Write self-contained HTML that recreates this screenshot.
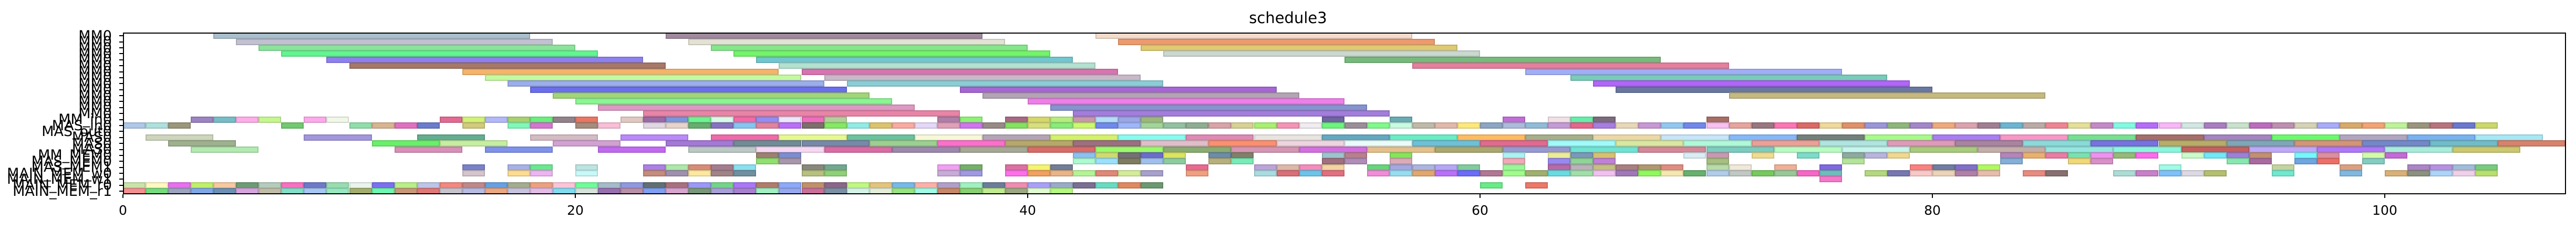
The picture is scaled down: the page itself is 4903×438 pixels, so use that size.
<!DOCTYPE html>
<html><head><meta charset="utf-8"><style>
html,body{margin:0;padding:0;background:#fff;}
#c{position:relative;width:4903px;height:438px;overflow:hidden;font-family:"DejaVu Sans","Liberation Sans",sans-serif;}
.b{position:absolute;height:12px;box-sizing:border-box;box-shadow:inset 0 0 0 2px rgba(0,0,0,0.13);}
.ax{position:absolute;left:234px;top:62px;width:4650px;height:308px;border:2px solid #000;box-sizing:border-box;}
.yt{position:absolute;left:227px;width:7px;height:2px;background:#000;}
.xt{position:absolute;top:370px;width:2px;height:7px;background:#000;}
.yl{position:absolute;right:4690px;font-size:27px;line-height:27px;white-space:nowrap;color:#000;}
.xl{position:absolute;top:386px;font-size:25px;line-height:30px;width:100px;text-align:center;}
</style></head><body><div id="c">
<div style="position:absolute;left:0;width:4903px;top:17px;text-align:center;font-size:29px;">schedule3</div>
</div>
<script>
var c=document.getElementById('c');
var U=43.05,X0=234;
function cy(r){return 68.3+11.38*r;}
function bar(r,s,e,col){var d=document.createElement('div');d.className='b';d.style.left=(X0+s*U)+'px';d.style.width=((e-s)*U)+'px';d.style.top=(cy(r)-6)+'px';d.style.background=col;c.appendChild(d);}
function seq(r,s,arr){for(var i=0;i<arr.length;i++){if(arr[i])bar(r,s+i,s+i+1,arr[i]);}}
function units(r,str){str.trim().split(/\s+/).forEach(function(t){var p=t.split(':');var s=+p[0];bar(r,s,s+1,p[1]);});}
var L=[
[0,4,18,'#a9bfcc'],[0,24,38,'#a08a9d'],[0,43,57,'#f3dccb'],
[1,5,19,'#c3c1d1'],[1,25,39,'#e3e2d4'],[1,44,58,'#ee9a6e'],
[2,6,20,'#8be39c'],[2,26,40,'#86e68a'],[2,45,59,'#dfca72'],
[3,7,21,'#62f590'],[3,27,41,'#73f46a'],[3,46,60,'#cbd8cf'],
[4,9,23,'#8e80ef'],[4,28,42,'#72c6cf'],[4,54,68,'#77bb7c'],
[5,10,24,'#a67868'],[5,29,43,'#b2e2cf'],[5,57,71,'#e47f9e'],
[6,15,29,'#f5b46a'],[6,30,44,'#d874b0'],[6,62,76,'#a0aef8'],
[7,16,30,'#c4f9a0'],[7,31,45,'#c7b9c8'],[7,64,78,'#79ccb9'],
[8,17,31,'#9badea'],[8,32,46,'#8acdd5'],[8,65,79,'#b066f8'],
[9,18,32,'#6b6eec'],[9,37,51,'#a666d3'],[9,66,80,'#6978a0'],
[10,19,33,'#a2d577'],[10,38,52,'#b3a4b3'],[10,71,85,'#c6b980'],
[11,20,34,'#8af592'],[11,40,54,'#ee7fe8'],
[12,21,35,'#dd98c4'],[12,41,55,'#8593cf'],
[13,23,37,'#e885a7'],[13,42,56,'#a37ddc'],
[17,1,4,'#cdd6bd'],[17,8,11,'#a297dc'],[17,13,16,'#64ad90'],[17,18,21,'#d3bcc4'],[17,22,25,'#b98af8'],[17,26,29,'#ee6aa8'],[17,29,32,'#e6f98f'],[17,32,35,'#6bc29c'],[17,35,38,'#f7f8d8'],[17,38,41,'#b3a5b5'],[17,41,44,'#d3f16a'],[17,44,47,'#88fbee'],[17,47,50,'#dd8ab4'],[17,50,53,'#e8e4e0'],[17,53,56,'#64a8c0'],[17,56,59,'#6aecc4'],[17,59,62,'#fcbc62'],[17,62,65,'#a6ae8a'],[17,65,68,'#ecd8a6'],[17,68,71,'#c8e4f8'],[17,71,74,'#86b8f8'],[17,74,77,'#727f7a'],[17,77,80,'#a8fa8a'],[17,80,83,'#a97ef0'],[17,83,86,'#f797c8'],[17,86,89,'#78df90'],[17,89,92,'#a46e6a'],[17,92,95,'#a585c0'],[17,95,98,'#6cfa6c'],[17,98,101,'#b0a6c0'],[17,101,104,'#7ab2f0'],[17,104,107,'#a8e8f4'],
[18,2,5,'#9eb08e'],[18,11,14,'#6aef6a'],[18,14,17,'#c6eea0'],[18,19,22,'#d2a1d2'],[18,24,27,'#a478d6'],[18,27,30,'#708c96'],[18,30,33,'#7789a8'],[18,33,36,'#9cd090'],[18,36,39,'#fb70cc'],[18,39,42,'#b5a86a'],[18,42,45,'#9c7080'],[18,45,48,'#e0bdc9'],[18,48,51,'#fa9070'],[18,51,54,'#ecd5dc'],[18,54,57,'#eafcfa'],[18,57,60,'#6ec0d8'],[18,60,63,'#e06a90'],[18,63,66,'#a0fafa'],[18,66,69,'#d8e8a0'],[18,69,72,'#b0f8d8'],[18,72,75,'#eba097'],[18,75,78,'#b0e4e0'],[18,78,81,'#de9ab8'],[18,81,84,'#a884a0'],[18,84,87,'#8adada'],[18,87,90,'#7872e0'],[18,90,93,'#b8ac6a'],[18,93,96,'#7fa6b6'],[18,96,99,'#d49478'],[18,99,102,'#7488c8'],[18,102,105,'#70bcc8'],[18,105,108,'#d7826c'],
[19,3,6,'#b2eab0'],[19,12,15,'#d890b8'],[19,16,19,'#8091ea'],[19,21,24,'#c06af0'],[19,25,28,'#bcc8c6'],[19,28,31,'#f7d8f2'],[19,31,34,'#da6ca4'],[19,34,37,'#9c88ac'],[19,37,40,'#a4a894'],[19,40,43,'#d86c68'],[19,43,46,'#9afa6a'],[19,46,49,'#8aac72'],[19,49,52,'#d496b2'],[19,52,55,'#d470e0'],[19,55,58,'#e4c08c'],[19,58,61,'#aaa870'],[19,61,64,'#969ad0'],[19,64,67,'#70e4d4'],[19,67,70,'#d48898'],[19,70,73,'#7cccc0'],[19,73,76,'#b8fcc4'],[19,76,79,'#c6f5ec'],[19,79,82,'#a9cb7e'],[19,82,85,'#c4aeaa'],[19,85,88,'#96e6e0'],[19,88,91,'#8af6dc'],[19,91,94,'#c46060'],[19,94,97,'#c0a8f8'],[19,97,100,'#ae78f8'],[19,100,103,'#a8ecdc'],[19,103,106,'#ccc870']
];
L.forEach(function(a){bar(a[0],a[1],a[2],a[3]);});
seq(14,3,['#9b84bf','#78bcc5','#fcaee6','#c6f78f','','#fcaaec','#f1f8e8']);
seq(14,14,['#e26b92','#d0f376','#b2b9f6','#a9d16f','#6bef7e','#92828a','#ea7664','','#e0c9c2','#9c6aa8','#7b96db','#6cf48f','#d7fbe8','#f36aa8','#908ef5','#ece8fb','#f06cc0','#b4d09a','','','','','#ad7fa9','#8ef374','','#a86a82','#d5d66c','#b6ec80','#c897ab','#b3dcf5','#9ba6e4','#9bb77b']);
units(14,'53:#6f65a0 56:#6aabb4 61:#c06fd6 63:#f3e0e6 64:#66eeab 65:#7b6b7c 70:#a66e66');
seq(15,0,['#b0c8e8','#aee0dd','#9a977b','','','','','#72c970','','','#90dfaa','#d8b591','#e070c0','#6a7dcc']);
seq(15,15,['#d2cb7d','','#7ff8b9','#d478cf','','#a58c7c','#f8bfd6','','#e0d7e3','#e6d3cb','#67ad70','#8873c2',
'#85c6f0','#e2839e','#bb6ff7','#7c6f6b','#84ea62','#93ebe6','#dcc46e','#faaaa0','#e4d7f8','#e0a0b8','#d074f0','#978a87','#83e25f','#d7e07c',
'#88ec78','#ccf96e','#6f8aea','#a0b6fa','#a3d49a','#93c0a1','#8fae91','#d8a4a8','#d8d196','#a9ef70','#f495b6','#f0ecf1','#6cf57d',
'#9b8e99','#80fa8a','#c8fbe0','#beb9a8','#e0b9aa','#fde97a','#8ea5c3','#adbbdb','#92bbd8','#c49bd5','#e6678c','#a87de0','#e8d7b8','#c898d4',
'#92c8f0','#7187ea','#f7c0f0','#e6a59d','#987780','#fc76b4','#d96a66','#efda9c','#df916a','#9a96d8','#8eb67c','#a387c8','#efaa7c',
'#dba3ae','#a07f92','#6cb5d2','#baaba6','#ef8593','#e4e098','#c48ac8','#80fbe2','#b56ef8','#f8b8f8','#d2e6e2','#a97dc0','#c8e2cc','#bc6cbc',
'#be8fb0','#d5d2b5','#a8acf8','#d8aa6c','#f2a474','#bdf49a','#9a957c','#b8747c','#6a78cd','#ccd96a']);
units(20,'28:#9c8070 29:#7c8ed0 42:#8cc0f0 43:#cedb70 44:#747078 45:#6c6ccc 46:#dce460 48:#6c8ca8 49:#808068 53:#9cc4cc 54:#b8808c 56:#86e45c 61:#aaf2f2 63:#ecec98 64:#7c98b8 65:#d8c070 69:#d8eef4 70:#c898b0 72:#f0dc90 74:#7cdcc8 76:#8caaa0 77:#b8b4dc 78:#f0d890 83:#b484ba 84:#eab070 85:#ea7ca4 86:#7ae0b0 87:#f090f0 88:#96b878 89:#fc6cec 91:#c8fcc8 92:#70e8f8 93:#9c80d8 94:#c09070 96:#74f8fc 97:#dc8ea0 99:#d4fca8 100:#c46ad4');
units(21,'28:#90e070 29:#a896ac 42:#acfad0 43:#9ae0fc 44:#807c60 45:#a0c0ec 46:#8ccca0 48:#b8b07c 49:#78ecb8 53:#a07080 54:#b08cb8 56:#dcaab8 61:#f2a8b8 63:#9888f0 64:#90d498 65:#c080d8 70:#a8be80 76:#b4e49a 83:#84b0d8 86:#f0d878 87:#d890c8 93:#88e8b0 94:#a86aa0 96:#6ea6e0 97:#ec7068 99:#84ccc0');
units(22,'15:#7882c8 17:#a8b0e8 18:#6ae890 20:#bce4e0 23:#ac80e4 24:#ace8a8 25:#d88c78 26:#a47c90 27:#88e0f0 30:#88887c 31:#72a890 36:#f0a0f0 37:#74b068 39:#dc70a0 40:#f4f470 41:#707e96 47:#e86a90 50:#bca4d8 51:#dcb8a8 52:#f48cbc 53:#f4d4a0 55:#68d47c 56:#a4a8e0 57:#acb4e0 58:#b4a8f4 59:#80cc9c 61:#98f898 63:#b86aa8 64:#bcb0bc 65:#c4c080 66:#a88080 67:#b09870 68:#e08c80 70:#b8dca8 71:#f0e8d8 73:#f0b098 75:#8068e0 79:#fc8080 80:#707ca0 81:#8070c8 82:#b0fa60 90:#a0fce4 95:#c4d4a0 98:#dca080 101:#ac84c8 102:#b890e0 103:#a0bcd8 104:#78cc80');
units(23,'15:#d4c4cc 17:#fcdc90 18:#ecb4f0 20:#c8f8f8 23:#c48c7c 24:#a090b0 25:#fce8a0 26:#a08488 27:#7090a0 30:#b8c080 31:#90d078 36:#c8acd8 37:#a098e0 39:#fc70e8 40:#f0a060 41:#e8b488 42:#b4f496 43:#e08878 44:#d4ec98 45:#a8a0cc 47:#f0a080 50:#a8dce0 51:#d87078 52:#6cc4e8 53:#e07080 55:#f08cd8 56:#98dcf0 57:#e0a870 58:#b870f8 59:#6c6cf8 60:#b07894 61:#a0fc8c 62:#a0b070 63:#68dce0 64:#a0e0a8 65:#f0c0f0 66:#a078b8 67:#90f860 68:#f4e8b0 69:#68b070 70:#b0cce8 71:#c0c8c4 72:#78c860 73:#98c898 74:#f468c4 75:#70bcbc 77:#b4d880 78:#7878b0 79:#f8c8c8 80:#ecd4b8 81:#b080a8 82:#e8bcac 84:#e88a80 85:#887070 88:#acdcd4 89:#c880c8 90:#80c0f8 91:#dcd8e4 92:#b4c070 95:#70e8d0 98:#80b8e0 100:#d8b078 101:#8c9080 102:#acd4f8 103:#f0d0e8 104:#b8e070');
units(24,'75:#f478cc');
seq(25,0,['#c8e4a8','#fff8c0','#e870f0','#c0f068','#f8c8a0','#6c9c74','#b4ccbc','#f870c0','#7078c8','#98dcb0','#eaf4ec','#7a70f0','#b8f088','#bcc4e8',
'#f28880','#c08888','#68a0e0','#a4ac90','#eca080','#fcc4d8','#70fc98','#a4bcc8','#9098e0','#607074','#a87080','#9c98f8','#74d488',
'#a878f8','#b07c6c','#8caaf8','#c0906c','#8a6888','#c0f880','#e4c47c','#78b8e8','#fcb0a8','#b0a0c8','#a0f0c0','#6c7c98','#f08cb0','#a8a0f8',
'#98acc8','#7a7090','#68dcc0','#e08860','#6c9a70']);
units(25,'60:#68ec88 62:#ec7868');
seq(26,0,['#f49090','#74dc7c','#9ca4c0','#80a8e8','#6c90b4','#d8a4e0','#c0bca8','#80e0c8','#a8c8f4','#98e8c0','#a4ae6c','#6cf8b0','#c89878','#e07878',
'#c8c4cc','#b8bce4','#eca880','#c8c4e0','#e4bce8','#80dcf0','#d4e4dc','#9870b0','#b890a8','#80a0f4','#d8a4d0','#789878','#a8a0d8',
'#a880d0','#a0f0c4','#98a8f0','#c87098','#7c90a4','#d4f4e8','#e4eed8','#98e480','#a0fce4','#c88868','#88d070','#c0ec90','#9ca880','#e0fcd0',
'#b4fa80']);
var ax=document.createElement('div');ax.className='ax';c.appendChild(ax);
var labels=['MM0','MM0','MM0','MM0','MM0','MM0','MM0','MM0','MM0','MM0','MM0','MM0','MM0','MM0','MM_in0','MAS_in0','MAS_out0','MAS0','MAS0','MAS0','MM_MEM0','MAS_MEM0','MAS_MEM1','MAIN_MEM_w0','MAIN_MEM_w1','MAIN_MEM_r0','MAIN_MEM_r1'];
for(var r=0;r<27;r++){
 var t=document.createElement('div');t.className='yt';t.style.top=(cy(r)-1)+'px';c.appendChild(t);
 var l=document.createElement('div');l.className='yl';l.style.top=(cy(r)-13.5)+'px';l.textContent=labels[r];c.appendChild(l);
}
for(var v=0;v<=100;v+=20){
 var x=X0+v*U;
 var t=document.createElement('div');t.className='xt';t.style.left=(x-1)+'px';c.appendChild(t);
 var l=document.createElement('div');l.className='xl';l.style.left=(x-50)+'px';l.textContent=v;c.appendChild(l);
}
</script>
</body></html>
